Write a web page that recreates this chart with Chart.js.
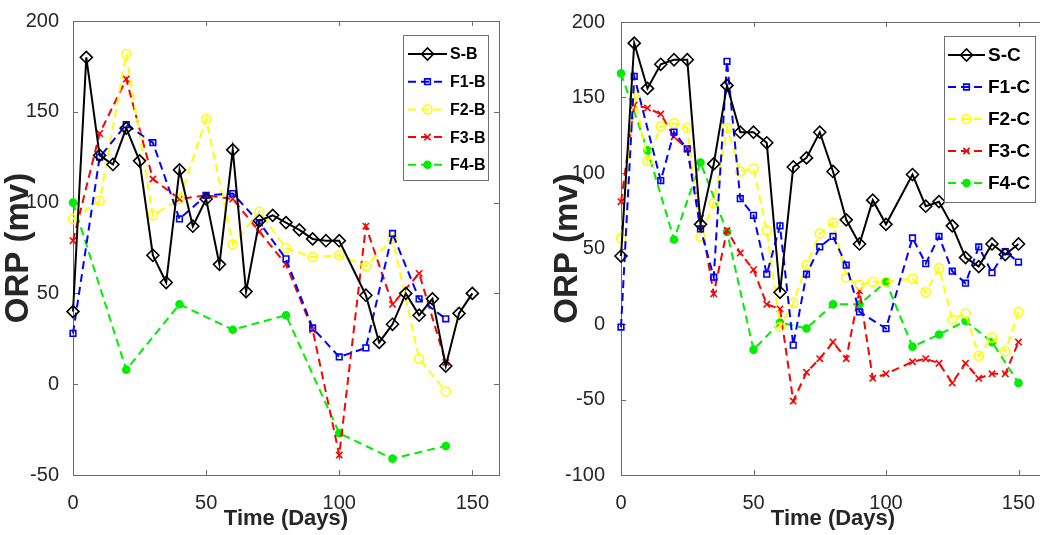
<!DOCTYPE html>
<html>
<head>
<meta charset="utf-8">
<style>
  html, body { margin: 0; padding: 0; background: #fff; overflow: hidden; width: 1040px; height: 535px; }
  canvas { position: absolute; top: 0; }
  #chartB { left: 0; }
  #chartC { left: 520px; }
</style>
<script src="https://cdn.jsdelivr.net/npm/chart.js@4.4.1/dist/chart.umd.min.js"></script>
</head>
<body>
<canvas id="chartB" width="520" height="535"></canvas>
<canvas id="chartC" width="540" height="535"></canvas>
<script>
// ---- data ----
const xTicks = [0, 50, 100, 150];

// panel B
const sbDays = [0,5,10,15,20,25,30,35,40,45,50,55,60,65,70,75,80,85,90,95,100,110,115,120,125,130,135,140,145,150];
const sbOrp  = [40,180,126,121,141,123,71,56,118,87,102,66,129,51,90,93,89,85,80,79,79,49,23,33,50,38,47,10,39,50];
const fbDays = [0,10,20,30,40,50,60,70,80,90,100,110,120,130,140];
const f1bOrp = [28,125,143,133,91,104,105,89,69,31,15,20,83,47,36];
const f2bOrp = [91,101,182,93,102,146,77,95,75,70,71,65,80,14,-4];
const f3bOrp = [79,138,168,113,102,104,102,84,66,30,-39,87,44,61,12];
const f4bDays = [0,20,40,60,80,100,120,140];
const f4bOrp  = [100,8,44,30,38,-27,-41,-34];

// panel C
const scDays = [0,5,10,15,20,25,30,35,40,45,50,55,60,65,70,75,80,85,90,95,100,110,115,120,125,130,135,140,145,150];
const scOrp  = [45,186,156,172,175,175,66,106,158,127,127,120,21,104,110,127,101,69,53,82,66,99,78,81,65,44,38,53,46,53];
const f1cDays = [0,5,15,20,25,30,35,40,45,50,55,60,65,70,75,80,85,90,100,110,115,120,125,130,135,140,145,150];
const f1cOrp  = [-2,164,95,127,116,63,31,174,83,72,33,65,-14,33,51,58,39,8,-3,57,40,58,35,27,51,34,48,41];
const fcDays = [0,5,10,15,20,25,30,35,40,45,50,55,60,65,70,75,80,85,90,95,100,110,115,120,125,130,135,140,145,150];
const f2cOrp = [57,152,108,131,133,130,58,80,130,101,103,62,-2,14,39,60,67,31,26,28,28,30,21,37,3,7,-21,-9,-18,8];
const f3cOrp = [81,145,143,139,124,116,70,20,62,47,36,13,10,-51,-32,-23,-12,-23,22,-36,-33,-25,-23,-26,-39,-26,-36,-33,-33,-12];
const f4cDays = [0,10,20,30,40,50,60,70,80,90,100,110,120,130,140,150];
const f4cOrp  = [166,115,56,107,61,-17,1,-3,13,13,28,-15,-7,2,-12,-39];

const SANS = "'Liberation Sans', Arial, sans-serif";
const TEXT = '#262626';

const styles = {
  S:  { color: '#000000', dash: [],     pointStyle: 'rectRot',  radius: 6,   fill: 'rgba(0,0,0,0)' },
  F1: { color: '#0000ff', dash: [8, 5], pointStyle: 'rect',     radius: 4,   fill: 'rgba(0,0,0,0)' },
  F2: { color: '#ffff00', dash: [8, 5], pointStyle: 'circle',   radius: 4.5, fill: 'rgba(0,0,0,0)' },
  F3: { color: '#ff0000', dash: [8, 5], pointStyle: 'crossRot', radius: 4.5, fill: 'rgba(0,0,0,0)' },
  F4: { color: '#00ee00', dash: [8, 5], pointStyle: 'circle',   radius: 3.5, fill: '#00ee00' }
};

function series(label, days, vals, st) {
  return {
    label: label,
    data: days.map((d, i) => ({ x: d, y: vals[i] })),
    borderColor: st.color,
    borderWidth: 2,
    borderDash: st.dash,
    pointStyle: st.pointStyle,
    pointRadius: st.radius,
    pointBorderWidth: 1.6,
    pointBorderColor: st.color,
    pointBackgroundColor: st.fill,
    tension: 0,
    clip: false
  };
}

// axes frame with inward tick marks, like the original figure
const frame = {
  id: 'frame',
  beforeDatasetsDraw(chart) {
    const ctx = chart.ctx, a = chart.chartArea;
    const xs = chart.scales.x, ys = chart.scales.y;
    ctx.save();
    ctx.strokeStyle = '#6a6a6a';
    ctx.lineWidth = 1;
    ctx.strokeRect(a.left + 0.5, a.top + 0.5, a.right - a.left, a.bottom - a.top);
    ctx.beginPath();
    xs.ticks.forEach(t => {
      const px = Math.round(xs.getPixelForValue(t.value)) + 0.5;
      ctx.moveTo(px, a.bottom); ctx.lineTo(px, a.bottom - 5);
      ctx.moveTo(px, a.top); ctx.lineTo(px, a.top + 5);
    });
    ys.ticks.forEach(t => {
      const py = Math.round(ys.getPixelForValue(t.value)) + 0.5;
      ctx.moveTo(a.left, py); ctx.lineTo(a.left + 5, py);
      ctx.moveTo(a.right, py); ctx.lineTo(a.right - 5, py);
    });
    ctx.stroke();
    ctx.restore();
  }
};

function marker(ctx, st, x, y) {
  ctx.save();
  ctx.setLineDash([]);
  ctx.strokeStyle = st.color;
  ctx.fillStyle = st.fill;
  ctx.lineWidth = 1.6;
  if (Chart.helpers && Chart.helpers.drawPoint) {
    Chart.helpers.drawPoint(ctx, { pointStyle: st.pointStyle, radius: st.radius, rotation: 0, borderWidth: 1.6 }, x, y);
  } else {
    ctx.beginPath();
    ctx.arc(x, y, st.radius, 0, Math.PI * 2);
    ctx.fill(); ctx.stroke();
  }
  ctx.restore();
}

// MATLAB style boxed legend: line sample with marker in the middle
const boxLegend = {
  id: 'boxLegend',
  afterDraw(chart, args, o) {
    const ctx = chart.ctx;
    ctx.save();
    ctx.fillStyle = '#fff';
    ctx.fillRect(o.left, o.top, o.width, o.height);
    ctx.strokeStyle = '#707070';
    ctx.lineWidth = 1;
    ctx.strokeRect(o.left + 0.5, o.top + 0.5, o.width, o.height);
    chart.data.datasets.forEach((ds, i) => {
      const st = o.keys[i];
      const y = o.firstRow + i * o.rowGap;
      ctx.strokeStyle = st.color;
      ctx.lineWidth = 2;
      ctx.setLineDash(st.dash);
      ctx.beginPath();
      ctx.moveTo(o.lineX0, y); ctx.lineTo(o.lineX1, y);
      ctx.stroke();
      marker(ctx, st, (o.lineX0 + o.lineX1) / 2, y);
      ctx.setLineDash([]);
      ctx.fillStyle = '#000';
      ctx.font = o.font;
      ctx.textBaseline = 'middle';
      ctx.textAlign = 'left';
      ctx.fillText(ds.label, o.textX, y + 1);
    });
    ctx.restore();
  }
};

function makeOptions(c) {
  return {
    responsive: false,
    animation: false,
    layout: { padding: { left: 0, top: c.top, right: c.right, bottom: 0 } },
    plugins: {
      legend: { display: false },
      tooltip: { enabled: false },
      boxLegend: c.legend
    },
    scales: {
      x: {
        type: 'linear', min: 0, max: 160,
        grid: { display: false }, border: { display: false },
        afterBuildTicks: s => { s.ticks = xTicks.map(v => ({ value: v })); },
        ticks: { stepSize: 50, includeBounds: false, padding: 8, color: TEXT,
                 font: { family: SANS, size: 20 } },
        title: { display: true, text: 'Time (Days)', color: TEXT, padding: { top: 0, bottom: 3 },
                 font: { family: SANS, size: 22, weight: 'bold' } },
        afterFit: s => { s.height = 60; }
      },
      y: {
        min: c.yMin, max: 200,
        grid: { display: false }, border: { display: false },
        ticks: { stepSize: 50, padding: c.yPad, color: TEXT,
                 font: { family: SANS, size: 20 } },
        title: { display: true, text: 'ORP (mv)', color: TEXT, padding: { top: c.yTitlePad, bottom: 0 },
                 font: { family: SANS, size: 33, weight: 'bold' } },
        afterFit: s => { s.width = c.yWidth; }
      }
    }
  };
}

const keysB = [styles.S, styles.F1, styles.F2, styles.F3, styles.F4];

new Chart(document.getElementById('chartB'), {
  type: 'line',
  data: {
    datasets: [
      series('S-B', sbDays, sbOrp, styles.S),
      series('F1-B', fbDays, f1bOrp, styles.F1),
      series('F2-B', fbDays, f2bOrp, styles.F2),
      series('F3-B', fbDays, f3bOrp, styles.F3),
      series('F4-B', f4bDays, f4bOrp, styles.F4)
    ]
  },
  options: makeOptions({
    top: 21, right: 21, yMin: -50, yWidth: 73, yPad: 6, yTitlePad: -1,
    legend: { left: 403, top: 35, width: 85, height: 145, lineX0: 408, lineX1: 447, textX: 450,
              firstRow: 54, rowGap: 27.7, font: "bold 16px " + SANS, keys: keysB }
  }),
  plugins: [frame, boxLegend]
});

new Chart(document.getElementById('chartC'), {
  type: 'line',
  data: {
    datasets: [
      series('S-C', scDays, scOrp, styles.S),
      series('F1-C', f1cDays, f1cOrp, styles.F1),
      series('F2-C', fcDays, f2cOrp, styles.F2),
      series('F3-C', fcDays, f3cOrp, styles.F3),
      series('F4-C', f4cDays, f4cOrp, styles.F4)
    ]
  },
  options: makeOptions({
    top: 22, right: 15, yMin: -100, yWidth: 101, yPad: 8, yTitlePad: 28,
    legend: { left: 424, top: 36, width: 91, height: 166, lineX0: 428, lineX1: 465, textX: 468,
              firstRow: 55, rowGap: 32, font: "bold 19px " + SANS, keys: keysB }
  }),
  plugins: [frame, boxLegend]
});
</script>
</body>
</html>
